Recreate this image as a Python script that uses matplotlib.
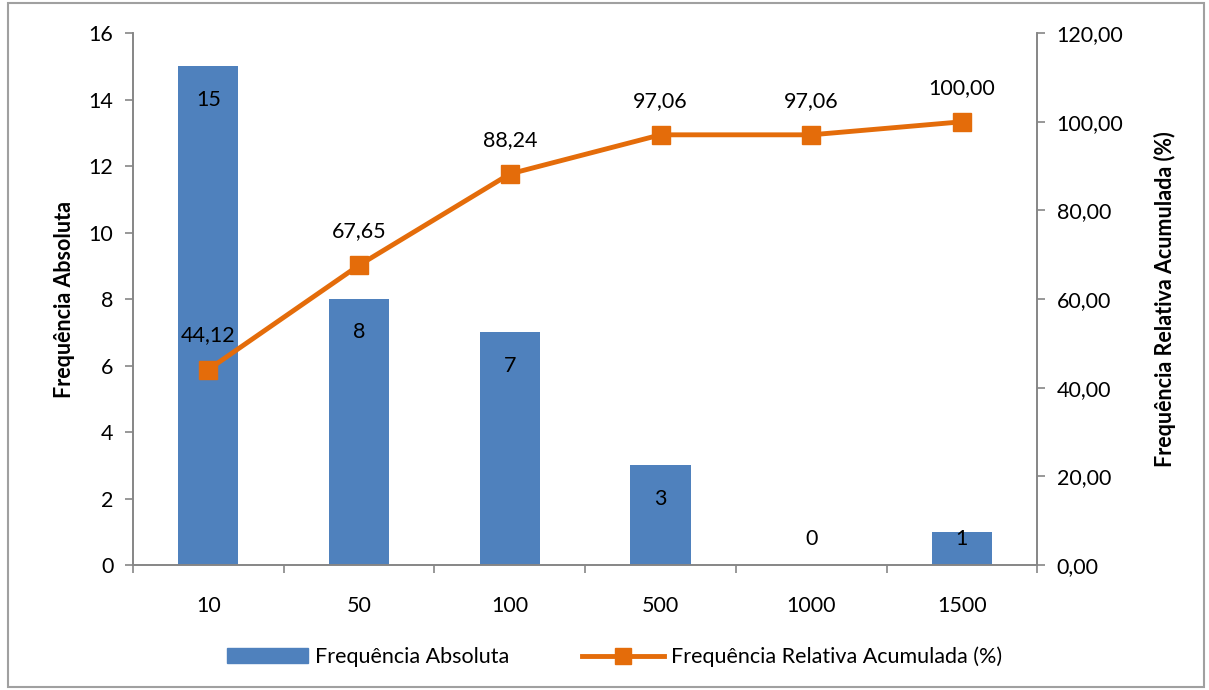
import numpy as np
import matplotlib.pyplot as plt
from matplotlib.patches import Rectangle
from matplotlib.lines import Line2D
from matplotlib.patches import Patch

plt.rcParams['font.family'] = ['Lato', 'DejaVu Sans']

# Dados
classes = ['10', '50', '100', '500', '1000', '1500']
freq_abs = [15, 8, 7, 3, 0, 1]
freq_rel_acum = [44.12, 67.65, 88.24, 97.06, 97.06, 100.00]

blue = '#4F81BD'
orange = '#E46C0A'
grey = '#868686'
fs = 15.5

fig = plt.figure(figsize=(12.09, 6.9), dpi=100)
ax = fig.add_axes([0.110, 0.181, 0.748, 0.771])
ax2 = ax.twinx()

x = np.arange(len(classes))
ax.bar(x, freq_abs, width=0.4, color=blue, zorder=2)
# rótulos dentro do topo da barra, sem descer abaixo da base
for xi, v in zip(x, freq_abs):
    ax.text(xi, max(v - 1.0, 0.8), str(v), ha='center', va='center', fontsize=fs)

ax2.plot(x, freq_rel_acum, color=orange, lw=3.5, marker='s', markersize=13, zorder=3)
for xi, v in zip(x, freq_rel_acum):
    ax2.text(xi, v + 7.7, f'{v:.2f}'.replace('.', ','), ha='center', va='center', fontsize=fs)

ax.set_xlim(-0.5, len(classes) - 0.5)
ax.set_ylim(0, 16)
ax.set_yticks(range(0, 17, 2))
ax2.set_ylim(0, 120)
ax2.set_yticks(range(0, 121, 20))
ax2.set_yticklabels([f'{t:.2f}'.replace('.', ',') for t in range(0, 121, 20)])

# categorias nas posições das barras, marcas nos limites
ax.set_xticks(x)
ax.set_xticklabels(classes, fontsize=fs)
ax.tick_params(axis='x', length=0, pad=22)
ax.set_xticks(np.arange(-0.5, len(classes), 1), minor=True)
ax.tick_params(axis='x', which='minor', length=6, color=grey, width=1.2)

ax.tick_params(axis='y', labelsize=fs, length=6, color=grey, width=1.2, pad=8)
ax2.tick_params(axis='y', labelsize=fs, length=6, color=grey, width=1.2, pad=8)

for a in (ax, ax2):
    a.spines['top'].set_visible(False)
    for s in ('left', 'right', 'bottom'):
        a.spines[s].set_color(grey)
        a.spines[s].set_linewidth(1.2)

ax.set_ylabel('Frequência Absoluta', fontsize=fs, fontweight='bold', labelpad=10)
ax2.set_ylabel('Frequência Relativa Acumulada (%)', fontsize=fs, fontweight='bold', labelpad=22)

handles = [Patch(color=blue),
           Line2D([0], [0], color=orange, lw=3.5, marker='s', markersize=11)]
fig.legend(handles, ['Frequência Absoluta', 'Frequência Relativa Acumulada (%)'],
           loc='center', bbox_to_anchor=(0.508, 0.048), ncol=2, frameon=False,
           fontsize=fs, handlelength=3.8, columnspacing=3.4, handletextpad=0.3)

fig.patches.append(Rectangle((0.007, 0.005), 0.989, 0.99, transform=fig.transFigure,
                             fill=False, edgecolor='#A0A0A0', lw=1.5))

fig.savefig('out.png', dpi=100)
